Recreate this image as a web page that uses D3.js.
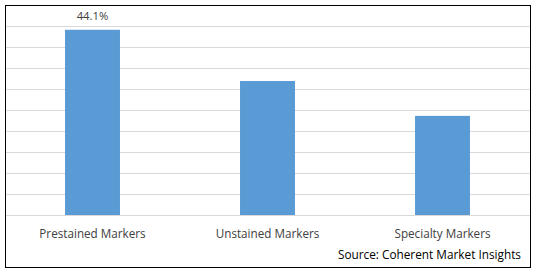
<!DOCTYPE html>
<html><head><meta charset="utf-8">
<script src="https://cdn.jsdelivr.net/npm/d3@7"></script>
<style>body{margin:0;background:#fff}svg{display:block}</style>
</head><body>
<script>
const categories = ["Prestained Markers", "Unstained Markers", "Specialty Markers"];
const values = [44.1, 31.9, 23.6];
const valueLabels = ["44.1%", "", ""];
const yTicks = [0, 5, 10, 15, 20, 25, 30, 35, 40, 45, 50];
const sourceText = "Source: Coherent Market Insights";

const W = 538, H = 272;
const svg = d3.select("body").append("svg").attr("width", W).attr("height", H);
const font = "'Open Sans', sans-serif";

const x = d3.scaleBand().domain(categories).range([5, 530]).paddingInner(0.686).paddingOuter(0.343);
const y = d3.scaleLinear().domain([0, 50]).range([215, 5]);

// gridlines
svg.append("g").selectAll("line").data(yTicks.slice(1, -1)).join("line")
  .attr("x1", 5).attr("x2", 530)
  .attr("y1", d => Math.round(y(d)) + 0.5).attr("y2", d => Math.round(y(d)) + 0.5)
  .attr("stroke", "#d9d9d9").attr("stroke-width", 1);

// bars
svg.append("g").selectAll("rect").data(values).join("rect")
  .attr("x", (d, i) => x(categories[i]))
  .attr("width", x.bandwidth())
  .attr("y", d => y(d))
  .attr("height", d => y(0) - y(d))
  .attr("fill", "#5b9bd5");

// baseline
svg.append("line").attr("x1", 5).attr("x2", 530)
  .attr("y1", Math.round(y(0)) + 0.5).attr("y2", Math.round(y(0)) + 0.5)
  .attr("stroke", "#d9d9d9");

// x axis labels
const xAxis = d3.axisBottom(x).tickSize(0).tickPadding(0);
const gx = svg.append("g").attr("transform", `translate(0,${y(0)})`).call(xAxis);
gx.select(".domain").remove();
gx.selectAll("text").attr("font-family", font).attr("font-size", 11.7)
  .attr("fill", "#404040").attr("dy", null).attr("y", 23);

// value labels
svg.append("g").selectAll("text").data(values).join("text")
  .attr("x", (d, i) => x(categories[i]) + x.bandwidth() / 2)
  .attr("y", d => y(d) - 10)
  .attr("text-anchor", "middle")
  .attr("font-family", font).attr("font-size", 11.3).attr("fill", "#404040")
  .text((d, i) => valueLabels[i]);

// source
svg.append("text").attr("x", 521).attr("y", 259).attr("text-anchor", "end")
  .attr("font-family", font).attr("font-size", 11.8).attr("fill", "#000")
  .text(sourceText);

// border
svg.append("rect").attr("x", 5.5).attr("y", 5.5).attr("width", 525).attr("height", 262)
  .attr("fill", "none").attr("stroke", "#000").attr("stroke-width", 1);
</script>
</body></html>
